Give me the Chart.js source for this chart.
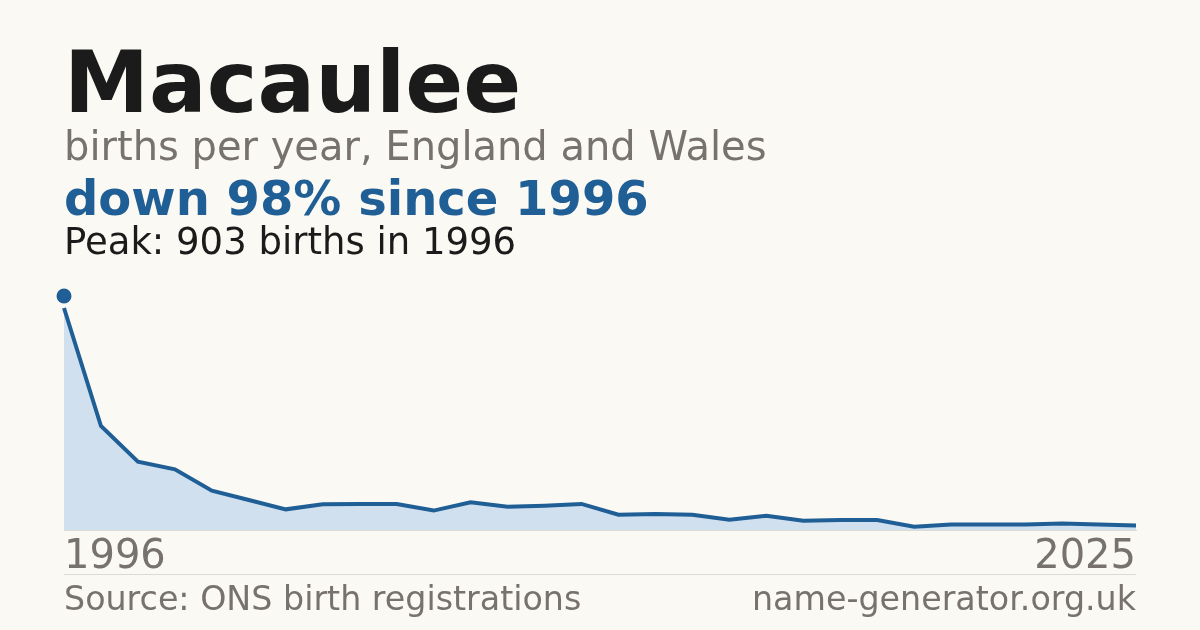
<!DOCTYPE html>
<html>
<head>
<meta charset="utf-8">
<script src="https://cdn.jsdelivr.net/npm/chart.js@4/dist/chart.umd.min.js"></script>
<style>
  html, body {
    margin: 0;
    padding: 0;
    background: #faf9f4;
  }
  #card {
    position: relative;
    width: 1200px;
    height: 630px;
    overflow: hidden;
    font-family: 'DejaVu Sans', sans-serif;
  }
  #card canvas {
    position: absolute;
    left: 0;
    top: 0;
  }
  .txt {
    position: absolute;
    left: 64px;
    line-height: 1;
    white-space: nowrap;
  }
  #title { top: 40px; font-size: 85.5px; font-weight: bold; color: #1b1b1b; }
  #subtitle { top: 126px; font-size: 40px; color: #77726b; }
  #headline { top: 174px; font-size: 48px; font-weight: bold; color: #1f5f96; }
  #peak { top: 223px; font-size: 37px; color: #1b1b1b; }
  #rule {
    position: absolute;
    left: 64px;
    width: 1072px;
    top: 574px;
    height: 1px;
    background: #dcdad3;
  }
  .foot { top: 582px; font-size: 33.3px; color: #77726b; }
  #site { left: auto; right: 64px; }
</style>
</head>
<body>
<div id="card">
  <canvas id="chart" width="1200" height="630"></canvas>
  <div class="txt" id="title"></div>
  <div class="txt" id="subtitle"></div>
  <div class="txt" id="headline"></div>
  <div class="txt" id="peak"></div>
  <div id="rule"></div>
  <div class="txt foot" id="source"></div>
  <div class="txt foot" id="site"></div>
</div>
<script>
// Births per year for the name
const nameLabel = 'Macaulee';
const years = [
  '1996', '1997', '1998', '1999', '2000', '2001', '2002', '2003', '2004', '2005',
  '2006', '2007', '2008', '2009', '2010', '2011', '2012', '2013', '2014', '2015',
  '2016', '2017', '2018', '2019', '2020', '2021', '2022', '2023', '2024', '2025',
];
const births = [
  903, 423, 278, 247, 160, 122, 84, 105, 106, 106,
  79, 113, 95, 99, 106, 62, 65, 62, 42, 58,
  38, 41, 41, 13, 22, 22, 22, 26, 22, 18,
];
const subtitleText = 'births per year, England and Wales';
const sourceText = 'Source: ONS birth registrations';
const siteText = 'name-generator.org.uk';

const BLUE = '#1f5f96';
const GREY = '#77726b';

// Headline figures come from the series
const peakValue = Math.max(...births);
const peakIndex = births.indexOf(peakValue);
const lastValue = births[births.length - 1];
const drop = Math.round((1 - lastValue / peakValue) * 100);

document.getElementById('title').textContent = nameLabel;
document.getElementById('subtitle').textContent = subtitleText;
document.getElementById('headline').textContent =
  `down ${drop}% since ${years[peakIndex]}`;
document.getElementById('peak').textContent =
  `Peak: ${peakValue} births in ${years[peakIndex]}`;
document.getElementById('source').textContent = sourceText;
document.getElementById('site').textContent = siteText;

// Dot just above the peak point
const peakMarker = {
  id: 'peakMarker',
  afterDatasetsDraw(chart) {
    const pt = chart.getDatasetMeta(0).data[peakIndex];
    if (!pt) return;
    const ctx = chart.ctx;
    ctx.save();
    ctx.fillStyle = BLUE;
    ctx.beginPath();
    ctx.arc(pt.x, pt.y - 12, 7.5, 0, Math.PI * 2);
    ctx.fill();
    ctx.restore();
  },
};

new Chart(document.getElementById('chart'), {
  type: 'line',
  data: {
    labels: years,
    datasets: [{
      data: births,
      borderColor: BLUE,
      borderWidth: 4,
      backgroundColor: '#d0e0ef',
      fill: 'origin',
      tension: 0,
      pointRadius: 0,
      clip: false,
    }],
  },
  options: {
    responsive: false,
    animation: false,
    events: [],
    layout: {
      padding: { top: 308, left: 64, right: 64, bottom: 44 },
    },
    plugins: {
      legend: { display: false },
      tooltip: { enabled: false },
    },
    scales: {
      x: {
        offset: false,
        grid: { display: false, drawTicks: false },
        border: { display: true, color: '#dcdad3', width: 1 },
        ticks: {
          autoSkip: false,
          maxRotation: 0,
          align: 'inner',
          padding: 4,
          color: GREY,
          font: { family: 'DejaVu Sans', size: 40, lineHeight: 1.2 },
          callback(value, index) {
            return index === 0 || index === years.length - 1 ? years[index] : '';
          },
        },
      },
      y: {
        display: false,
        min: 0,
        max: peakValue,
      },
    },
  },
  plugins: [peakMarker],
});
</script>
</body>
</html>
